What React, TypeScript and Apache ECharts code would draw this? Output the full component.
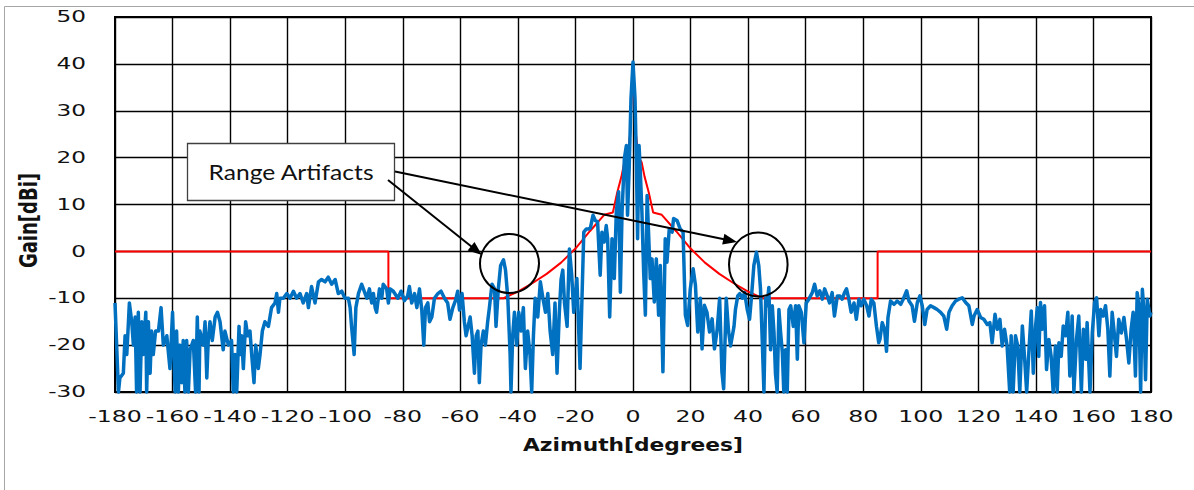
import React, { useEffect, useRef } from "react";
import * as echarts from "echarts";

// ---- Data ----
const azimuth = [
  -180.0, -178.8, -178.3, -177.1, -176.5, -175.9, -175.0, -174.2, -173.6, -173.0,
  -172.5, -171.9, -171.3, -170.7, -170.2, -169.3, -169.0, -168.4, -167.8, -167.3,
  -166.7, -165.9, -164.9, -164.0, -163.2, -162.0, -160.9, -160.0, -159.1, -158.6,
  -158.0, -157.4, -156.8, -156.3, -155.7, -155.1, -154.5, -153.9, -152.8, -152.0,
  -151.4, -150.8, -150.5, -149.3, -148.7, -148.1, -147.6, -147.0, -146.2, -145.2,
  -144.4, -143.5, -142.4, -141.8, -140.6, -139.5, -138.9, -138.3, -137.7, -136.9,
  -136.6, -136.0, -135.4, -134.6, -133.9, -133.1, -132.5, -131.7, -131.1, -130.2,
  -129.6, -128.8, -127.9, -126.7, -125.6, -124.4, -123.8, -123.2, -122.7, -121.5,
  -120.3, -119.2, -118.0, -116.9, -115.7, -114.6, -113.4, -112.8, -111.7, -110.5,
  -109.3, -108.2, -107.0, -105.9, -104.7, -103.5, -102.4, -101.2, -100.1, -98.9,
  -98.3, -97.8, -96.9, -96.3, -95.4, -94.3, -93.7, -92.5, -91.6, -90.8,
  -90.2, -89.6, -89.1, -88.1, -87.3, -86.8, -85.6, -85.0, -84.4, -83.3,
  -81.7, -80.6, -79.4, -78.3, -77.7, -76.9, -75.9, -75.1, -74.2, -73.4,
  -72.7, -72.1, -71.3, -70.7, -69.9, -69.0, -67.8, -66.7, -65.5, -64.4,
  -63.6, -62.6, -61.7, -60.9, -60.3, -59.4, -58.6, -58.0, -57.3, -56.6,
  -55.9, -55.1, -54.5, -53.9, -53.4, -52.8, -52.0, -51.3, -50.5, -49.9,
  -49.0, -48.1, -47.6, -46.8, -46.0, -45.0, -44.3, -43.5, -42.7, -42.4,
  -41.8, -41.2, -40.4, -39.7, -38.9, -38.1, -37.4, -36.6, -35.8, -35.2,
  -34.6, -34.0, -33.1, -32.2, -31.3, -30.4, -29.6, -28.8, -27.9, -27.1,
  -26.4, -25.6, -25.0, -24.4, -23.8, -22.9, -22.1, -21.3, -20.6, -19.5,
  -18.4, -17.1, -16.2, -15.4, -14.8, -13.9, -13.1, -12.3, -11.4, -10.8,
  -10.0, -9.3, -8.8, -8.1, -7.3, -6.5, -5.8, -5.0, -4.4, -3.8,
  -3.0, -2.3, -1.9, -1.3, -0.7, 0.0, 0.7, 1.2, 1.6, 2.1,
  2.5, 3.1, 3.7, 4.3, 4.9, 5.4, 6.0, 6.6, 7.4, 8.1,
  8.9, 9.5, 10.4, 11.2, 11.8, 12.6, 13.6, 14.1, 15.3, 16.4,
  17.4, 18.2, 19.0, 19.9, 20.9, 21.7, 22.5, 23.4, 24.0, 24.8,
  25.7, 26.6, 27.5, 28.3, 29.2, 30.1, 30.9, 31.5, 32.4, 33.2,
  33.9, 35.1, 35.6, 36.4, 37.1, 38.0, 38.8, 39.7, 40.5, 41.2,
  42.0, 42.9, 43.7, 44.3, 44.9, 45.5, 46.1, 46.6, 47.2, 47.8,
  48.4, 49.0, 49.5, 50.1, 50.7, 51.3, 51.9, 52.4, 53.0, 53.6,
  54.2, 54.8, 55.7, 56.5, 57.1, 57.6, 58.5, 59.4, 60.2, 61.1,
  62.3, 63.1, 64.0, 64.9, 65.8, 66.6, 67.5, 68.3, 69.2, 70.0,
  71.0, 71.9, 72.7, 73.5, 74.2, 75.0, 75.8, 76.8, 77.6, 78.5,
  79.3, 80.2, 81.2, 82.0, 82.8, 83.7, 84.6, 85.4, 85.8, 86.6,
  87.4, 88.1, 88.6, 89.5, 90.7, 91.8, 93.0, 93.9, 95.1, 95.9,
  97.0, 97.8, 98.8, 99.7, 100.5, 101.4, 102.2, 103.4, 104.6, 105.7,
  106.9, 108.0, 109.0, 109.8, 110.9, 112.1, 113.2, 114.4, 115.6, 116.7,
  117.9, 118.5, 119.6, 120.8, 121.9, 123.1, 124.0, 124.8, 125.8, 126.6,
  127.5, 128.3, 129.1, 130.0, 130.9, 131.4, 132.1, 132.9, 133.7, 134.4,
  135.3, 136.1, 136.8, 137.6, 138.4, 139.1, 139.9, 140.5, 141.0, 141.6,
  142.2, 143.0, 143.7, 144.5, 145.3, 146.0, 146.8, 147.4, 148.0, 148.8,
  149.5, 150.3, 151.1, 151.8, 152.6, 153.2, 154.1, 154.9, 155.8, 156.5,
  157.3, 157.8, 158.8, 159.6, 160.4, 161.1, 161.9, 162.5, 163.4, 164.2,
  165.0, 165.7, 166.5, 167.1, 168.0, 168.8, 169.7, 170.6, 171.5, 172.3,
  173.1, 173.8, 174.6, 175.2, 175.8, 176.4, 177.0, 177.5, 178.1, 178.7,
  179.6, 180.0,
];

const gain = [
  -11, -30, -27, -26, -18, -22, -11, -15, -20, -14,
  -30, -13, -30, -15, -22, -13, -30, -15, -26, -17,
  -22, -17, -17, -12, -20, -18, -25, -13, -30, -17,
  -30, -20, -28, -19, -30, -19, -30, -21, -19, -30,
  -14, -30, -17, -20, -15, -27, -19, -15, -19, -14,
  -13, -15, -21, -17, -20, -19, -30, -22, -30, -16,
  -22, -18, -25, -15, -18, -17, -22, -28, -20, -25,
  -22, -17, -15, -16, -12, -11, -9, -13, -10, -10,
  -9, -10, -8.5, -10, -9, -11, -9, -12, -7.5, -11,
  -6.5, -6, -6.5, -5.5, -7, -6, -9, -8.5, -10, -10,
  -12, -16, -22, -12, -9, -7, -8, -10, -8, -11,
  -9, -12, -13, -8, -10, -7, -8, -11, -8, -8.5,
  -10, -8.5, -10.5, -9.5, -7.5, -11, -9, -12, -8, -12.5,
  -20, -12, -11, -15, -14, -10, -9, -8.5, -10, -11,
  -14.5, -12, -10.5, -8.5, -12.5, -9, -15, -18, -16, -14,
  -18, -26, -18, -17, -28, -20, -17, -20, -15, -12,
  -7, -8, -16, -8, -3, -1.8, -4, -10, -22, -30,
  -18, -13, -20, -13, -17, -12, -25, -17, -22, -30,
  -18, -10, -14, -6.5, -10, -13, -9, -17, -22, -11,
  -26, -13, -6, -4, -11, -16, 0.5, -5, -13, -5.8,
  -25, 4.1, 4.8, 4.8, 5, 7.7, 6.6, 6.3, -5.1, 4.1,
  2, 5.5, 2.7, -14, 2.7, -5.8, 8.4, 12.7, -8.7, 8.4,
  19.8, 22.6, 7.7, 18.3, 32.6, 40.4, 32.6, 18.3, 2.7, 22.6,
  17.6, 8.4, -4.4, -13.6, 11.9, 4.1, -5.8, -1.6, -10.8, -1.6,
  -13.6, -3, -25.7, 2.7, -2.3, 4.8, 4.1, 7, 6.6, 4.8,
  4.1, -13.6, -15.8, -8, -3.7, -7.2, -17.2, -10, -20.8, -11.5,
  -13, -17.2, -14.4, -20.8, -17, -10, -25.7, -29.3, -10, -17,
  -20.2, -16, -12.4, -9.5, -9, -10, -8.8, -12.4, -14.5, -9.5,
  -3, -0.2, -3, -8, -18.8, -30, -10, -11.6, -7.7, -21,
  -11.6, -17.4, -26, -30, -12.4, -17.4, -21.6, -30, -21, -30,
  -12.4, -11.6, -16, -11.6, -23, -11.6, -13, -19.5, -11, -10.2,
  -8.8, -7, -9.5, -8.4, -10.2, -8, -9.5, -11, -8.8, -13.8,
  -9.5, -9.5, -10.2, -8.8, -8, -10.2, -13, -11, -14.5, -10.2,
  -11.6, -10.2, -11.6, -13.8, -10.2, -11, -16, -19.5, -18.8, -15.2,
  -16.6, -21.3, -14.1, -10.6, -11.3, -10.6, -11.3, -10.2, -8.4, -10.6,
  -11.6, -14.9, -10.9, -9.5, -11.6, -15.6, -12.4, -11.6, -12, -12.4,
  -13, -13.8, -16.6, -13, -11.6, -10.6, -10.2, -9.9, -10.9, -11.6,
  -15.6, -13.8, -12.4, -14.1, -14.5, -15.6, -15.2, -19.5, -13.4, -16.6,
  -14.5, -20.2, -16.6, -20.2, -30, -18, -30, -18, -20.2, -30,
  -15.9, -23, -30, -21, -12.7, -26, -15.9, -12, -22.4, -10.9,
  -16.6, -11.6, -25.2, -18.8, -22.4, -30, -20.2, -30, -19.5, -22.4,
  -15.9, -18, -13, -26.6, -13.8, -30, -18.8, -13.8, -30, -16.6,
  -23, -15.2, -30, -17.4, -10.9, -9.9, -18, -12.4, -13.8, -11.6,
  -16.6, -26.6, -13, -16.6, -22.4, -14.5, -17.4, -14.1, -18.8, -23.8,
  -16.6, -13, -26.6, -8.8, -11.6, -30, -8.1, -12.4, -27.4, -10.2,
  -13.8, -13,
];

const maskAzimuth = [
  -180, -85, -85, -45, -40, -35, -30, -25, -20, -15, -10, -7, -5.5, -4, -3, -2, -1, 0,
  1, 2, 3, 4, 5.5, 7, 10, 15, 20, 25, 30, 35, 40, 45, 85, 85, 180,
];
const maskGain = [
  0, 0, -10, -10, -8.6, -6.8, -4.8, -2.4, 0.6, 4.3, 7.8, 8.3, 12.5, 16, 19, 20, 25, 40,
  25, 20, 19, 16, 12.5, 8.3, 7.8, 4.3, 0.6, -2.4, -4.8, -6.8, -8.6, -10, -10, 0, 0,
];

const xTickLabels = [-180, -160, -140, -120, -100, -80, -60, -40, -20, 0, 20, 40, 60, 80, 100, 120, 140, 160, 180];
const yTickLabels = [50, 40, 30, 20, 10, 0, -10, -20, -30];
const xTitle = "Azimuth[degrees]";
const yTitle = "Gain[dBi]";
const noteText = "Range Artifacts";

const X_MIN = -180;
const X_MAX = 180;
const Y_MIN = -30;
const Y_MAX = 50;

function arrow(x1: number, y1: number, x2: number, y2: number) {
  const dx = x2 - x1;
  const dy = y2 - y1;
  const len = Math.hypot(dx, dy);
  const ux = dx / len;
  const uy = dy / len;
  const L = 14;
  const W = 11;
  const bx = x2 - ux * L;
  const by = y2 - uy * L;
  return [
    { type: "line", shape: { x1, y1, x2: bx + ux * 2, y2: by + uy * 2 }, style: { stroke: "#000", lineWidth: 2 } },
    {
      type: "polygon",
      shape: { points: [[x2, y2], [bx - (uy * W) / 2, by + (ux * W) / 2], [bx + (uy * W) / 2, by - (ux * W) / 2]] },
      style: { fill: "#000" },
    },
  ];
}

export default function App() {
  const ref = useRef<HTMLDivElement>(null);
  useEffect(() => {
    if (!ref.current) return;
    const chart = echarts.init(ref.current, undefined, { renderer: "svg" });
    const gainData = azimuth.map((a, i) => [a, gain[i]]);
    const maskData = maskAzimuth.map((a, i) => [a, maskGain[i]]);
    const gridLine = { show: true, lineStyle: { color: "#000", width: 1.4 } };
    chart.setOption({
      animation: false,
      backgroundColor: "#ffffff",
      grid: { left: 115, top: 17, width: 1036, height: 375, show: true, borderColor: "#000", borderWidth: 2, backgroundColor: "transparent" },
      xAxis: {
        type: "value", min: X_MIN, max: X_MAX, interval: 20,
        axisLine: { show: false }, axisTick: { show: false }, axisLabel: { show: false }, splitLine: gridLine,
      },
      yAxis: {
        type: "value", min: Y_MIN, max: Y_MAX, interval: 10,
        axisLine: { show: false }, axisTick: { show: false }, axisLabel: { show: false }, splitLine: gridLine,
      },
      series: [
        { type: "line", data: maskData, symbol: "none", lineStyle: { color: "#ff0000", width: 2 }, z: 3, clip: true },
        { type: "line", data: gainData, symbol: "none", lineStyle: { color: "#0070c0", width: 3.5, join: "round" }, z: 4, clip: false },
      ],
    });

    const g: any[] = [];
    // outer frame
    g.push({ type: "rect", shape: { x: 4.5, y: 6.5, width: 1300, height: 600 }, style: { fill: "none", stroke: "#a6a6a6", lineWidth: 1 }, silent: true, z: -10 });
    const tickFont = { fontSize: 16, fontFamily: "DejaVu Sans", fill: "#111" };
    xTickLabels.forEach((v) => {
      const p = chart.convertToPixel({ gridIndex: 0 }, [v, Y_MIN]) as number[];
      g.push({ type: "text", x: p[0], y: p[1] + 16, scaleX: 1.48, style: { ...tickFont, text: String(v), align: "center", verticalAlign: "top" } });
    });
    yTickLabels.forEach((v) => {
      const p = chart.convertToPixel({ gridIndex: 0 }, [X_MIN, v]) as number[];
      g.push({ type: "text", x: p[0] - 29, y: p[1], scaleX: 1.45, style: { ...tickFont, text: String(v), align: "right", verticalAlign: "middle" } });
    });
    const pc = chart.convertToPixel({ gridIndex: 0 }, [(X_MIN + X_MAX) / 2, Y_MIN]) as number[];
    g.push({ type: "text", x: pc[0], y: pc[1] + 53, scaleX: 1.28, style: { text: xTitle, fontSize: 17, fontWeight: "bold", fontFamily: "DejaVu Sans", fill: "#111", align: "center", verticalAlign: "middle" } });
    const pm = chart.convertToPixel({ gridIndex: 0 }, [X_MIN, (Y_MIN + Y_MAX) / 2]) as number[];
    g.push({ type: "text", x: 28, y: pm[1] + 16, rotation: Math.PI / 2, scaleY: 1.4, style: { text: yTitle, fontSize: 18, fontWeight: "bold", fontFamily: "DejaVu Sans", fill: "#111", align: "center", verticalAlign: "middle" } });

    // annotation
    g.push({ type: "rect", shape: { x: 187.5, y: 143.5, width: 207, height: 57 }, style: { fill: "#fff", stroke: "#404040", lineWidth: 1.3 }, z: 10 });
    g.push({ type: "text", x: 291, y: 172, scaleX: 1.12, style: { text: noteText, fontSize: 22, fontFamily: "Lato", fill: "#111", align: "center", verticalAlign: "middle" }, z: 11 });
    g.push({ type: "circle", shape: { cx: 509.5, cy: 263.5, r: 29.5 }, style: { fill: "none", stroke: "#000", lineWidth: 2 }, z: 10 });
    g.push({ type: "ellipse", shape: { cx: 758.3, cy: 264.5, rx: 29.3, ry: 32 }, style: { fill: "none", stroke: "#000", lineWidth: 2 }, z: 10 });
    arrow(388, 180, 482, 255).forEach((e) => g.push({ ...e, z: 10 }));
    arrow(395, 171.5, 737, 242).forEach((e) => g.push({ ...e, z: 10 }));

    chart.setOption({ graphic: g });
    return () => chart.dispose();
  }, []);
  return <div ref={ref} style={{ position: "fixed", left: 0, top: 0, width: 1194, height: 490, background: "#fff" }} />;
}
